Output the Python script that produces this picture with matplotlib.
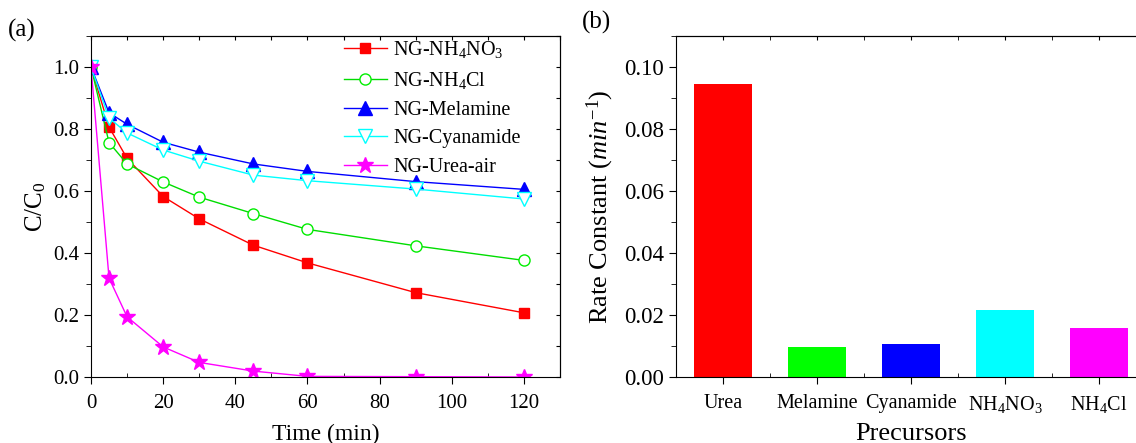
import matplotlib
matplotlib.use("Agg")
import matplotlib.pyplot as plt
from matplotlib.ticker import MultipleLocator

plt.rcParams["font.family"] = "Liberation Serif"
plt.rcParams["mathtext.fontset"] = "custom"
plt.rcParams["mathtext.rm"] = "Liberation Serif"
plt.rcParams["mathtext.it"] = "Liberation Serif:italic"

# (a) degradation curves
time = [0, 5, 10, 20, 30, 45, 60, 90, 120]
nh4no3 = [1.0, 0.806, 0.705, 0.582, 0.510, 0.425, 0.368, 0.272, 0.207]
nh4cl = [1.0, 0.756, 0.687, 0.629, 0.580, 0.527, 0.476, 0.423, 0.376]
melamine = [1.0, 0.852, 0.815, 0.757, 0.725, 0.687, 0.663, 0.630, 0.605]
cyanamide = [1.0, 0.835, 0.787, 0.732, 0.696, 0.651, 0.633, 0.606, 0.574]
urea_air = [1.0, 0.319, 0.194, 0.097, 0.047, 0.019, 0.002, 0.001, 0.0]

# (b) rate constants
precursors = ["Urea", "Melamine", "Cyanamide", "NH$_4$NO$_3$", "NH$_4$Cl"]
rates = [0.0946, 0.0097, 0.0107, 0.0216, 0.0158]
bar_colors = ["#ff0000", "#00ff00", "#0000ff", "#00ffff", "#ff00ff"]

fig = plt.figure(figsize=(11.36, 4.43), dpi=100)

ax1 = fig.add_axes([0.0801, 0.149, 0.4129, 0.770])
ax1.plot(time, nh4no3, color="#ff0000", marker="s", ms=7.5, lw=1, label="NG-NH$_4$NO$_3$")
ax1.plot(time, nh4cl, color="#00dd00", marker="o", ms=8, mfc="white", mec="#00ee00",
         lw=1, label="NG-NH$_4$Cl")
ax1.plot(time, melamine, color="#0000ff", marker="^", ms=10, lw=1, label="NG-Melamine")
ax1.plot(time, cyanamide, color="#00ffff", marker="v", ms=10, mfc="white", mec="#00ffff",
         lw=1, label="NG-Cyanamide")
ax1.plot(time, urea_air, color="#ff00ff", marker="*", ms=12, lw=1, label="NG-Urea-air")

ax1.set_xlim(0, 130)
ax1.set_ylim(0, 1.1)
ax1.xaxis.set_major_locator(MultipleLocator(20))
ax1.xaxis.set_minor_locator(MultipleLocator(10))
ax1.yaxis.set_major_locator(MultipleLocator(0.2))
ax1.yaxis.set_minor_locator(MultipleLocator(0.1))
ax1.set_yticklabels([f"{v:.1f}" for v in ax1.get_yticks()])
ax1.tick_params(which="major", direction="out", length=5, labelsize=15)
ax1.tick_params(axis="x", which="major", pad=7)
ax1.tick_params(axis="x", which="minor", direction="in", length=3)
ax1.tick_params(axis="y", which="minor", direction="out", length=3.5)
ax1.set_xlabel("Time (min)", fontsize=17, labelpad=8)
ax1.set_ylabel("C/C$_0$", fontsize=18, labelpad=4)
top1 = ax1.secondary_xaxis("top")
top1.xaxis.set_major_locator(MultipleLocator(10))
top1.tick_params(direction="in", length=3, labeltop=False)
right1 = ax1.secondary_yaxis("right")
right1.yaxis.set_major_locator(MultipleLocator(0.1))
right1.tick_params(direction="in", length=3, labelright=False)
ax1.legend(loc="upper left", frameon=False, fontsize=14.5, handlelength=2.15,
           labelspacing=0.48, borderaxespad=0, borderpad=0, handletextpad=0.3,
           bbox_to_anchor=(0.539, 0.99))
ax1.text(-0.177, 1.015, "(a)", transform=ax1.transAxes, fontsize=18, va="center")

ax2 = fig.add_axes([0.595, 0.149, 0.4137, 0.770])
ax2.bar(range(len(precursors)), rates, width=0.61, color=bar_colors)
ax2.set_xlim(-0.5, 4.5)
ax2.set_ylim(0, 0.11)
ax2.set_xticks(range(len(precursors)))
ax2.set_xticklabels(precursors, fontsize=14.5)
ax2.xaxis.set_minor_locator(MultipleLocator(1, offset=0.5))
ax2.yaxis.set_major_locator(MultipleLocator(0.02))
ax2.yaxis.set_minor_locator(MultipleLocator(0.01))
ax2.set_yticklabels([f"{v:.2f}" for v in ax2.get_yticks()])
ax2.tick_params(which="major", direction="out", length=5)
ax2.tick_params(axis="x", which="major", pad=7)
ax2.tick_params(axis="y", labelsize=16.5)
ax2.tick_params(axis="x", which="minor", direction="in", length=3)
ax2.tick_params(axis="y", which="minor", direction="out", length=3.5)
ax2.set_xlabel("Precursors", fontsize=19, labelpad=6)
ax2.set_ylabel("Rate Constant ($\\mathit{min}^{\\mathit{-1}}$)", fontsize=19, labelpad=6)
top2 = ax2.secondary_xaxis("top")
top2.set_xticks([0, 1, 2, 3, 4])
top2.xaxis.set_minor_locator(MultipleLocator(1, offset=0.5))
top2.tick_params(which="both", direction="in", length=3, labeltop=False)
ax2.text(-0.2, 1.04, "(b)", transform=ax2.transAxes, fontsize=18, va="center")

fig.savefig("out.png", dpi=100)
